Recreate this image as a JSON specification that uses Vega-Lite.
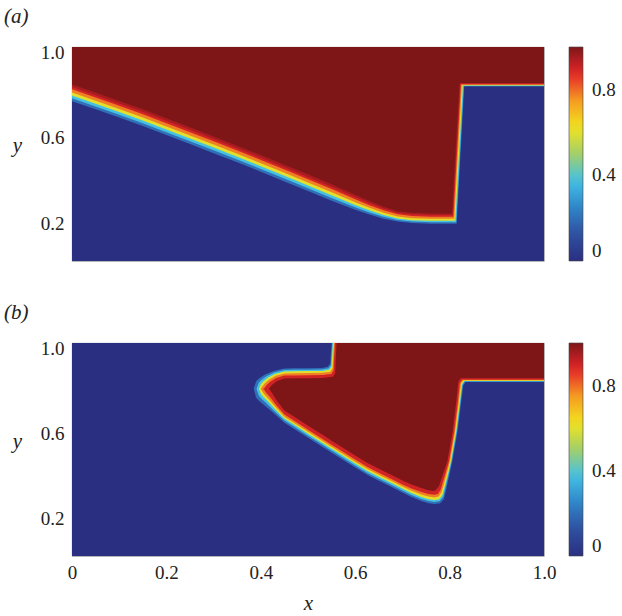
{
  "$schema": "https://vega.github.io/schema/vega-lite/v6.json",
  "padding": {"left": 3, "top": 5, "right": 3, "bottom": 3},
  "background": "white",
  "config": {
    "font": "Times New Roman, Liberation Serif, Times, serif",
    "view": {"stroke": "#8a8a8a", "strokeWidth": 0.8},
    "axis": {"labelFont": "Times New Roman, Liberation Serif, Times, serif", "labelFontSize": 19, "labelColor": "#222", "ticks": false, "domain": false, "grid": false, "labelFlush": false, "titleFont": "Times New Roman, Liberation Serif, Times, serif", "titleFontStyle": "italic", "titleFontSize": 21, "titleFontWeight": "normal", "titleColor": "#222"},
    "legend": {"labelFont": "Times New Roman, Liberation Serif, Times, serif", "labelFontSize": 19, "labelColor": "#222"},
    "concat": {"spacing": 38}
  },
  "resolve": {"scale": {"color": "independent"}},
  "datasets": {
    "a": [
      {"v":0,"x":0,"lo":0,"hi":1},{"v":0,"x":1,"lo":0,"hi":1},
      {"v":0.2,"x":0,"lo":0.747,"hi":1},{"v":0.2,"x":0.05,"lo":0.709,"hi":1},{"v":0.2,"x":0.1,"lo":0.670,"hi":1},{"v":0.2,"x":0.15,"lo":0.631,"hi":1},{"v":0.2,"x":0.2,"lo":0.589,"hi":1},{"v":0.2,"x":0.25,"lo":0.547,"hi":1},{"v":0.2,"x":0.3,"lo":0.504,"hi":1},{"v":0.2,"x":0.35,"lo":0.461,"hi":1},{"v":0.2,"x":0.4,"lo":0.417,"hi":1},{"v":0.2,"x":0.45,"lo":0.372,"hi":1},{"v":0.2,"x":0.5,"lo":0.327,"hi":1},{"v":0.2,"x":0.55,"lo":0.281,"hi":1},{"v":0.2,"x":0.6,"lo":0.239,"hi":1},{"v":0.2,"x":0.63,"lo":0.217,"hi":1},{"v":0.2,"x":0.66,"lo":0.198,"hi":1},{"v":0.2,"x":0.69,"lo":0.185,"hi":1},{"v":0.2,"x":0.72,"lo":0.177,"hi":1},{"v":0.2,"x":0.76,"lo":0.174,"hi":1},{"v":0.2,"x":0.815,"lo":0.174,"hi":1},{"v":0.2,"x":0.831,"lo":0.815,"hi":1},{"v":0.2,"x":1,"lo":0.815,"hi":1},
      {"v":0.38,"x":0,"lo":0.760,"hi":1},{"v":0.38,"x":0.05,"lo":0.722,"hi":1},{"v":0.38,"x":0.1,"lo":0.683,"hi":1},{"v":0.38,"x":0.15,"lo":0.644,"hi":1},{"v":0.38,"x":0.2,"lo":0.602,"hi":1},{"v":0.38,"x":0.25,"lo":0.560,"hi":1},{"v":0.38,"x":0.3,"lo":0.517,"hi":1},{"v":0.38,"x":0.35,"lo":0.474,"hi":1},{"v":0.38,"x":0.4,"lo":0.430,"hi":1},{"v":0.38,"x":0.45,"lo":0.385,"hi":1},{"v":0.38,"x":0.5,"lo":0.340,"hi":1},{"v":0.38,"x":0.55,"lo":0.294,"hi":1},{"v":0.38,"x":0.6,"lo":0.251,"hi":1},{"v":0.38,"x":0.63,"lo":0.227,"hi":1},{"v":0.38,"x":0.66,"lo":0.207,"hi":1},{"v":0.38,"x":0.69,"lo":0.192,"hi":1},{"v":0.38,"x":0.72,"lo":0.184,"hi":1},{"v":0.38,"x":0.76,"lo":0.181,"hi":1},{"v":0.38,"x":0.814,"lo":0.181,"hi":1},{"v":0.38,"x":0.830,"lo":0.818,"hi":1},{"v":0.38,"x":1,"lo":0.818,"hi":1},
      {"v":0.6,"x":0,"lo":0.773,"hi":1},{"v":0.6,"x":0.05,"lo":0.735,"hi":1},{"v":0.6,"x":0.1,"lo":0.696,"hi":1},{"v":0.6,"x":0.15,"lo":0.657,"hi":1},{"v":0.6,"x":0.2,"lo":0.615,"hi":1},{"v":0.6,"x":0.25,"lo":0.573,"hi":1},{"v":0.6,"x":0.3,"lo":0.530,"hi":1},{"v":0.6,"x":0.35,"lo":0.487,"hi":1},{"v":0.6,"x":0.4,"lo":0.443,"hi":1},{"v":0.6,"x":0.45,"lo":0.398,"hi":1},{"v":0.6,"x":0.5,"lo":0.353,"hi":1},{"v":0.6,"x":0.55,"lo":0.307,"hi":1},{"v":0.6,"x":0.6,"lo":0.262,"hi":1},{"v":0.6,"x":0.63,"lo":0.237,"hi":1},{"v":0.6,"x":0.66,"lo":0.215,"hi":1},{"v":0.6,"x":0.69,"lo":0.199,"hi":1},{"v":0.6,"x":0.72,"lo":0.191,"hi":1},{"v":0.6,"x":0.76,"lo":0.188,"hi":1},{"v":0.6,"x":0.812,"lo":0.188,"hi":1},{"v":0.6,"x":0.828,"lo":0.820,"hi":1},{"v":0.6,"x":1,"lo":0.820,"hi":1},
      {"v":0.78,"x":0,"lo":0.787,"hi":1},{"v":0.78,"x":0.05,"lo":0.749,"hi":1},{"v":0.78,"x":0.1,"lo":0.710,"hi":1},{"v":0.78,"x":0.15,"lo":0.671,"hi":1},{"v":0.78,"x":0.2,"lo":0.629,"hi":1},{"v":0.78,"x":0.25,"lo":0.587,"hi":1},{"v":0.78,"x":0.3,"lo":0.544,"hi":1},{"v":0.78,"x":0.35,"lo":0.501,"hi":1},{"v":0.78,"x":0.4,"lo":0.457,"hi":1},{"v":0.78,"x":0.45,"lo":0.412,"hi":1},{"v":0.78,"x":0.5,"lo":0.367,"hi":1},{"v":0.78,"x":0.55,"lo":0.321,"hi":1},{"v":0.78,"x":0.6,"lo":0.275,"hi":1},{"v":0.78,"x":0.63,"lo":0.249,"hi":1},{"v":0.78,"x":0.66,"lo":0.225,"hi":1},{"v":0.78,"x":0.69,"lo":0.208,"hi":1},{"v":0.78,"x":0.72,"lo":0.200,"hi":1},{"v":0.78,"x":0.76,"lo":0.197,"hi":1},{"v":0.78,"x":0.810,"lo":0.197,"hi":1},{"v":0.78,"x":0.826,"lo":0.823,"hi":1},{"v":0.78,"x":1,"lo":0.823,"hi":1},
      {"v":0.9,"x":0,"lo":0.802,"hi":1},{"v":0.9,"x":0.05,"lo":0.764,"hi":1},{"v":0.9,"x":0.1,"lo":0.725,"hi":1},{"v":0.9,"x":0.15,"lo":0.686,"hi":1},{"v":0.9,"x":0.2,"lo":0.644,"hi":1},{"v":0.9,"x":0.25,"lo":0.602,"hi":1},{"v":0.9,"x":0.3,"lo":0.559,"hi":1},{"v":0.9,"x":0.35,"lo":0.516,"hi":1},{"v":0.9,"x":0.4,"lo":0.472,"hi":1},{"v":0.9,"x":0.45,"lo":0.427,"hi":1},{"v":0.9,"x":0.5,"lo":0.382,"hi":1},{"v":0.9,"x":0.55,"lo":0.336,"hi":1},{"v":0.9,"x":0.6,"lo":0.289,"hi":1},{"v":0.9,"x":0.63,"lo":0.261,"hi":1},{"v":0.9,"x":0.66,"lo":0.237,"hi":1},{"v":0.9,"x":0.69,"lo":0.218,"hi":1},{"v":0.9,"x":0.72,"lo":0.210,"hi":1},{"v":0.9,"x":0.76,"lo":0.207,"hi":1},{"v":0.9,"x":0.808,"lo":0.207,"hi":1},{"v":0.9,"x":0.824,"lo":0.826,"hi":1},{"v":0.9,"x":1,"lo":0.826,"hi":1},
      {"v":0.95,"x":0,"lo":0.813,"hi":1},{"v":0.95,"x":0.05,"lo":0.775,"hi":1},{"v":0.95,"x":0.1,"lo":0.736,"hi":1},{"v":0.95,"x":0.15,"lo":0.697,"hi":1},{"v":0.95,"x":0.2,"lo":0.655,"hi":1},{"v":0.95,"x":0.25,"lo":0.613,"hi":1},{"v":0.95,"x":0.3,"lo":0.570,"hi":1},{"v":0.95,"x":0.35,"lo":0.527,"hi":1},{"v":0.95,"x":0.4,"lo":0.483,"hi":1},{"v":0.95,"x":0.45,"lo":0.438,"hi":1},{"v":0.95,"x":0.5,"lo":0.393,"hi":1},{"v":0.95,"x":0.55,"lo":0.347,"hi":1},{"v":0.95,"x":0.6,"lo":0.299,"hi":1},{"v":0.95,"x":0.63,"lo":0.271,"hi":1},{"v":0.95,"x":0.66,"lo":0.245,"hi":1},{"v":0.95,"x":0.69,"lo":0.226,"hi":1},{"v":0.95,"x":0.72,"lo":0.218,"hi":1},{"v":0.95,"x":0.76,"lo":0.215,"hi":1},{"v":0.95,"x":0.8065,"lo":0.215,"hi":1},{"v":0.95,"x":0.8225,"lo":0.829,"hi":1},{"v":0.95,"x":1,"lo":0.829,"hi":1},
      {"v":1,"x":0,"lo":0.825,"hi":1},{"v":1,"x":0.05,"lo":0.787,"hi":1},{"v":1,"x":0.1,"lo":0.748,"hi":1},{"v":1,"x":0.15,"lo":0.709,"hi":1},{"v":1,"x":0.2,"lo":0.667,"hi":1},{"v":1,"x":0.25,"lo":0.625,"hi":1},{"v":1,"x":0.3,"lo":0.582,"hi":1},{"v":1,"x":0.35,"lo":0.539,"hi":1},{"v":1,"x":0.4,"lo":0.495,"hi":1},{"v":1,"x":0.45,"lo":0.450,"hi":1},{"v":1,"x":0.5,"lo":0.405,"hi":1},{"v":1,"x":0.55,"lo":0.359,"hi":1},{"v":1,"x":0.6,"lo":0.310,"hi":1},{"v":1,"x":0.63,"lo":0.280,"hi":1},{"v":1,"x":0.66,"lo":0.254,"hi":1},{"v":1,"x":0.69,"lo":0.233,"hi":1},{"v":1,"x":0.72,"lo":0.225,"hi":1},{"v":1,"x":0.76,"lo":0.222,"hi":1},{"v":1,"x":0.805,"lo":0.222,"hi":1},{"v":1,"x":0.821,"lo":0.832,"hi":1},{"v":1,"x":1,"lo":0.832,"hi":1}
    ],
    "b": [
      {"v":0,"x":0,"lo":0,"hi":1},{"v":0,"x":1,"lo":0,"hi":1},
      {"v":0.2,"x":0.385,"lo":0.785,"hi":0.785},{"v":0.2,"x":0.390,"lo":0.743,"hi":0.820},{"v":0.2,"x":0.396,"lo":0.729,"hi":0.833},{"v":0.2,"x":0.408,"lo":0.707,"hi":0.851},{"v":0.2,"x":0.427,"lo":0.671,"hi":0.869},{"v":0.2,"x":0.450,"lo":0.626,"hi":0.880},{"v":0.2,"x":0.470,"lo":0.598,"hi":0.881},{"v":0.2,"x":0.500,"lo":0.555,"hi":0.882},{"v":0.2,"x":0.530,"lo":0.513,"hi":0.883},{"v":0.2,"x":0.542,"lo":0.496,"hi":0.888},{"v":0.2,"x":0.547,"lo":0.489,"hi":0.904},{"v":0.2,"x":0.550,"lo":0.485,"hi":1},{"v":0.2,"x":0.600,"lo":0.415,"hi":1},{"v":0.2,"x":0.626,"lo":0.380,"hi":1},{"v":0.2,"x":0.650,"lo":0.353,"hi":1},{"v":0.2,"x":0.676,"lo":0.325,"hi":1},{"v":0.2,"x":0.700,"lo":0.298,"hi":1},{"v":0.2,"x":0.718,"lo":0.278,"hi":1},{"v":0.2,"x":0.740,"lo":0.258,"hi":1},{"v":0.2,"x":0.755,"lo":0.248,"hi":1},{"v":0.2,"x":0.768,"lo":0.244,"hi":1},{"v":0.2,"x":0.780,"lo":0.248,"hi":1},{"v":0.2,"x":0.788,"lo":0.268,"hi":1},{"v":0.2,"x":0.792,"lo":0.305,"hi":1},{"v":0.2,"x":0.799,"lo":0.375,"hi":1},{"v":0.2,"x":0.806,"lo":0.446,"hi":1},{"v":0.2,"x":0.817,"lo":0.587,"hi":1},{"v":0.2,"x":0.824,"lo":0.712,"hi":1},{"v":0.2,"x":0.829,"lo":0.800,"hi":1},{"v":0.2,"x":0.834,"lo":0.817,"hi":1},{"v":0.2,"x":1,"lo":0.817,"hi":1},
      {"v":0.38,"x":0.391,"lo":0.785,"hi":0.785},{"v":0.38,"x":0.3955,"lo":0.753,"hi":0.813},{"v":0.38,"x":0.401,"lo":0.739,"hi":0.826},{"v":0.38,"x":0.412,"lo":0.717,"hi":0.844},{"v":0.38,"x":0.4285,"lo":0.681,"hi":0.862},{"v":0.38,"x":0.450,"lo":0.636,"hi":0.873},{"v":0.38,"x":0.470,"lo":0.608,"hi":0.874},{"v":0.38,"x":0.500,"lo":0.565,"hi":0.875},{"v":0.38,"x":0.530,"lo":0.523,"hi":0.876},{"v":0.38,"x":0.5435,"lo":0.504,"hi":0.881},{"v":0.38,"x":0.5485,"lo":0.497,"hi":0.897},{"v":0.38,"x":0.5515,"lo":0.493,"hi":1},{"v":0.38,"x":0.600,"lo":0.425,"hi":1},{"v":0.38,"x":0.626,"lo":0.390,"hi":1},{"v":0.38,"x":0.650,"lo":0.363,"hi":1},{"v":0.38,"x":0.676,"lo":0.335,"hi":1},{"v":0.38,"x":0.700,"lo":0.308,"hi":1},{"v":0.38,"x":0.718,"lo":0.288,"hi":1},{"v":0.38,"x":0.740,"lo":0.268,"hi":1},{"v":0.38,"x":0.755,"lo":0.258,"hi":1},{"v":0.38,"x":0.768,"lo":0.254,"hi":1},{"v":0.38,"x":0.779,"lo":0.258,"hi":1},{"v":0.38,"x":0.7865,"lo":0.278,"hi":1},{"v":0.38,"x":0.7905,"lo":0.313,"hi":1},{"v":0.38,"x":0.7975,"lo":0.378,"hi":1},{"v":0.38,"x":0.8045,"lo":0.446,"hi":1},{"v":0.38,"x":0.8155,"lo":0.587,"hi":1},{"v":0.38,"x":0.8225,"lo":0.712,"hi":1},{"v":0.38,"x":0.8275,"lo":0.803,"hi":1},{"v":0.38,"x":0.8325,"lo":0.8197,"hi":1},{"v":0.38,"x":1,"lo":0.8197,"hi":1},
      {"v":0.6,"x":0.396,"lo":0.785,"hi":0.785},{"v":0.6,"x":0.400,"lo":0.762,"hi":0.806},{"v":0.6,"x":0.405,"lo":0.748,"hi":0.819},{"v":0.6,"x":0.415,"lo":0.726,"hi":0.837},{"v":0.6,"x":0.430,"lo":0.690,"hi":0.855},{"v":0.6,"x":0.450,"lo":0.645,"hi":0.866},{"v":0.6,"x":0.470,"lo":0.617,"hi":0.867},{"v":0.6,"x":0.500,"lo":0.574,"hi":0.868},{"v":0.6,"x":0.530,"lo":0.532,"hi":0.869},{"v":0.6,"x":0.545,"lo":0.511,"hi":0.874},{"v":0.6,"x":0.550,"lo":0.504,"hi":0.890},{"v":0.6,"x":0.553,"lo":0.500,"hi":1},{"v":0.6,"x":0.600,"lo":0.434,"hi":1},{"v":0.6,"x":0.626,"lo":0.399,"hi":1},{"v":0.6,"x":0.650,"lo":0.372,"hi":1},{"v":0.6,"x":0.676,"lo":0.344,"hi":1},{"v":0.6,"x":0.700,"lo":0.317,"hi":1},{"v":0.6,"x":0.718,"lo":0.297,"hi":1},{"v":0.6,"x":0.740,"lo":0.277,"hi":1},{"v":0.6,"x":0.755,"lo":0.267,"hi":1},{"v":0.6,"x":0.768,"lo":0.263,"hi":1},{"v":0.6,"x":0.778,"lo":0.267,"hi":1},{"v":0.6,"x":0.785,"lo":0.287,"hi":1},{"v":0.6,"x":0.789,"lo":0.320,"hi":1},{"v":0.6,"x":0.796,"lo":0.380,"hi":1},{"v":0.6,"x":0.803,"lo":0.446,"hi":1},{"v":0.6,"x":0.814,"lo":0.587,"hi":1},{"v":0.6,"x":0.821,"lo":0.712,"hi":1},{"v":0.6,"x":0.826,"lo":0.806,"hi":1},{"v":0.6,"x":0.831,"lo":0.822,"hi":1},{"v":0.6,"x":1,"lo":0.822,"hi":1},
      {"v":0.78,"x":0.400,"lo":0.785,"hi":0.785},{"v":0.78,"x":0.4036,"lo":0.771,"hi":0.797},{"v":0.78,"x":0.4082,"lo":0.757,"hi":0.810},{"v":0.78,"x":0.4174,"lo":0.735,"hi":0.828},{"v":0.78,"x":0.4312,"lo":0.699,"hi":0.846},{"v":0.78,"x":0.450,"lo":0.654,"hi":0.857},{"v":0.78,"x":0.470,"lo":0.626,"hi":0.858},{"v":0.78,"x":0.500,"lo":0.583,"hi":0.859},{"v":0.78,"x":0.530,"lo":0.541,"hi":0.860},{"v":0.78,"x":0.547,"lo":0.517,"hi":0.865},{"v":0.78,"x":0.552,"lo":0.510,"hi":0.881},{"v":0.78,"x":0.555,"lo":0.506,"hi":1},{"v":0.78,"x":0.600,"lo":0.443,"hi":1},{"v":0.78,"x":0.626,"lo":0.408,"hi":1},{"v":0.78,"x":0.650,"lo":0.381,"hi":1},{"v":0.78,"x":0.676,"lo":0.353,"hi":1},{"v":0.78,"x":0.700,"lo":0.326,"hi":1},{"v":0.78,"x":0.718,"lo":0.307,"hi":1},{"v":0.78,"x":0.740,"lo":0.289,"hi":1},{"v":0.78,"x":0.755,"lo":0.279,"hi":1},{"v":0.78,"x":0.768,"lo":0.275,"hi":1},{"v":0.78,"x":0.777,"lo":0.279,"hi":1},{"v":0.78,"x":0.783,"lo":0.299,"hi":1},{"v":0.78,"x":0.787,"lo":0.330,"hi":1},{"v":0.78,"x":0.794,"lo":0.385,"hi":1},{"v":0.78,"x":0.801,"lo":0.446,"hi":1},{"v":0.78,"x":0.812,"lo":0.587,"hi":1},{"v":0.78,"x":0.819,"lo":0.712,"hi":1},{"v":0.78,"x":0.824,"lo":0.809,"hi":1},{"v":0.78,"x":0.829,"lo":0.8253,"hi":1},{"v":0.78,"x":1,"lo":0.8253,"hi":1},
      {"v":0.9,"x":0.404,"lo":0.784,"hi":0.784},{"v":0.9,"x":0.4072,"lo":0.781,"hi":0.787},{"v":0.9,"x":0.4114,"lo":0.767,"hi":0.800},{"v":0.9,"x":0.4198,"lo":0.745,"hi":0.818},{"v":0.9,"x":0.4324,"lo":0.709,"hi":0.836},{"v":0.9,"x":0.450,"lo":0.664,"hi":0.847},{"v":0.9,"x":0.470,"lo":0.636,"hi":0.848},{"v":0.9,"x":0.500,"lo":0.593,"hi":0.849},{"v":0.9,"x":0.530,"lo":0.551,"hi":0.850},{"v":0.9,"x":0.549,"lo":0.524,"hi":0.855},{"v":0.9,"x":0.554,"lo":0.517,"hi":0.871},{"v":0.9,"x":0.557,"lo":0.513,"hi":1},{"v":0.9,"x":0.600,"lo":0.453,"hi":1},{"v":0.9,"x":0.626,"lo":0.418,"hi":1},{"v":0.9,"x":0.650,"lo":0.391,"hi":1},{"v":0.9,"x":0.676,"lo":0.363,"hi":1},{"v":0.9,"x":0.700,"lo":0.336,"hi":1},{"v":0.9,"x":0.718,"lo":0.318,"hi":1},{"v":0.9,"x":0.740,"lo":0.301,"hi":1},{"v":0.9,"x":0.755,"lo":0.291,"hi":1},{"v":0.9,"x":0.768,"lo":0.287,"hi":1},{"v":0.9,"x":0.775,"lo":0.291,"hi":1},{"v":0.9,"x":0.781,"lo":0.311,"hi":1},{"v":0.9,"x":0.785,"lo":0.340,"hi":1},{"v":0.9,"x":0.792,"lo":0.392,"hi":1},{"v":0.9,"x":0.799,"lo":0.446,"hi":1},{"v":0.9,"x":0.810,"lo":0.587,"hi":1},{"v":0.9,"x":0.817,"lo":0.712,"hi":1},{"v":0.9,"x":0.822,"lo":0.812,"hi":1},{"v":0.9,"x":0.827,"lo":0.828,"hi":1},{"v":0.9,"x":1,"lo":0.828,"hi":1},
      {"v":1,"x":0.417,"lo":0.786,"hi":0.786},{"v":1,"x":0.424,"lo":0.764,"hi":0.804},{"v":1,"x":0.4345,"lo":0.728,"hi":0.822},{"v":1,"x":0.450,"lo":0.683,"hi":0.833},{"v":1,"x":0.470,"lo":0.655,"hi":0.834},{"v":1,"x":0.500,"lo":0.612,"hi":0.835},{"v":1,"x":0.530,"lo":0.570,"hi":0.836},{"v":1,"x":0.5525,"lo":0.538,"hi":0.841},{"v":1,"x":0.5575,"lo":0.531,"hi":0.857},{"v":1,"x":0.5605,"lo":0.527,"hi":1},{"v":1,"x":0.600,"lo":0.472,"hi":1},{"v":1,"x":0.626,"lo":0.437,"hi":1},{"v":1,"x":0.650,"lo":0.410,"hi":1},{"v":1,"x":0.676,"lo":0.382,"hi":1},{"v":1,"x":0.700,"lo":0.355,"hi":1},{"v":1,"x":0.718,"lo":0.337,"hi":1},{"v":1,"x":0.740,"lo":0.319,"hi":1},{"v":1,"x":0.755,"lo":0.309,"hi":1},{"v":1,"x":0.765,"lo":0.305,"hi":1},{"v":1,"x":0.7705,"lo":0.309,"hi":1},{"v":1,"x":0.7775,"lo":0.329,"hi":1},{"v":1,"x":0.7815,"lo":0.355,"hi":1},{"v":1,"x":0.7885,"lo":0.400,"hi":1},{"v":1,"x":0.7955,"lo":0.446,"hi":1},{"v":1,"x":0.8065,"lo":0.587,"hi":1},{"v":1,"x":0.8135,"lo":0.712,"hi":1},{"v":1,"x":0.8185,"lo":0.818,"hi":1},{"v":1,"x":0.8235,"lo":0.834,"hi":1},{"v":1,"x":1,"lo":0.834,"hi":1}
    ]
  },
  "vconcat": [
    {
      "title": {"text": "(a)", "anchor": "start", "frame": "group", "dx": -68, "offset": 16, "font": "Times New Roman, Liberation Serif, Times, serif", "fontSize": 21, "fontStyle": "italic", "fontWeight": "normal", "color": "#222"},
      "width": 472, "height": 214,
      "data": {"name": "a"},
      "mark": {"type": "area", "interpolate": "linear", "clip": true, "strokeWidth": 0},
      "encoding": {
        "x": {"field": "x", "type": "quantitative", "scale": {"domain": [0, 1], "nice": false, "zero": false}, "axis": null},
        "y": {"field": "lo", "type": "quantitative", "scale": {"domain": [0, 1], "nice": false, "zero": false}, "axis": {"values": [0.2, 0.6, 1.0], "format": ".1f", "labelPadding": 8, "labelOffset": 5, "title": "y", "titleAngle": 0, "titleAlign": "center", "titleBaseline": "alphabetic", "titleX": -55, "titleY": 104}},
        "y2": {"field": "hi"},
        "detail": {"field": "v", "type": "quantitative"},
        "color": {"field": "v", "type": "quantitative", "scale": {"domain": [0, 0.125, 0.25, 0.375, 0.5, 0.625, 0.75, 0.875, 1], "range": ["#2b2f81", "#2f4fa0", "#2f86c8", "#43c0e6", "#a2cf6a", "#f2e41e", "#f59b22", "#e5262a", "#7e1618"], "interpolate": "rgb"}, "legend": {"title": null, "orient": "right", "direction": "vertical", "values": [0, 0.4, 0.8], "gradientLength": 214, "gradientThickness": 14, "offset": 25, "labelOffset": 9, "labelOverlap": false, "gradientStrokeColor": "#444", "gradientStrokeWidth": 0.6, "labelExpr": "datum.value == 0 ? '0' : format(datum.value, '.1f')"}}
      }
    },
    {
      "title": {"text": "(b)", "anchor": "start", "frame": "group", "dx": -68, "offset": 16, "font": "Times New Roman, Liberation Serif, Times, serif", "fontSize": 21, "fontStyle": "italic", "fontWeight": "normal", "color": "#222"},
      "width": 472, "height": 213,
      "data": {"name": "b"},
      "mark": {"type": "area", "interpolate": "linear", "clip": true, "strokeWidth": 0},
      "encoding": {
        "x": {"field": "x", "type": "quantitative", "scale": {"domain": [0, 1], "nice": false, "zero": false}, "axis": {"values": [0, 0.2, 0.4, 0.6, 0.8, 1.0], "labelExpr": "datum.value == 0 ? '0' : format(datum.value, '.1f')", "labelPadding": 7, "title": "x", "titleBaseline": "alphabetic", "titleY": 53}},
        "y": {"field": "lo", "type": "quantitative", "scale": {"domain": [0, 1], "nice": false, "zero": false}, "axis": {"values": [0.2, 0.6, 1.0], "format": ".1f", "labelPadding": 8, "labelOffset": 5, "title": "y", "titleAngle": 0, "titleAlign": "center", "titleBaseline": "alphabetic", "titleX": -55, "titleY": 104}},
        "y2": {"field": "hi"},
        "detail": {"field": "v", "type": "quantitative"},
        "color": {"field": "v", "type": "quantitative", "scale": {"domain": [0, 0.125, 0.25, 0.375, 0.5, 0.625, 0.75, 0.875, 1], "range": ["#2b2f81", "#2f4fa0", "#2f86c8", "#43c0e6", "#a2cf6a", "#f2e41e", "#f59b22", "#e5262a", "#7e1618"], "interpolate": "rgb"}, "legend": {"title": null, "orient": "right", "direction": "vertical", "values": [0, 0.4, 0.8], "gradientLength": 213, "gradientThickness": 14, "offset": 25, "labelOffset": 9, "labelOverlap": false, "gradientStrokeColor": "#444", "gradientStrokeWidth": 0.6, "labelExpr": "datum.value == 0 ? '0' : format(datum.value, '.1f')"}}
      }
    }
  ]
}
